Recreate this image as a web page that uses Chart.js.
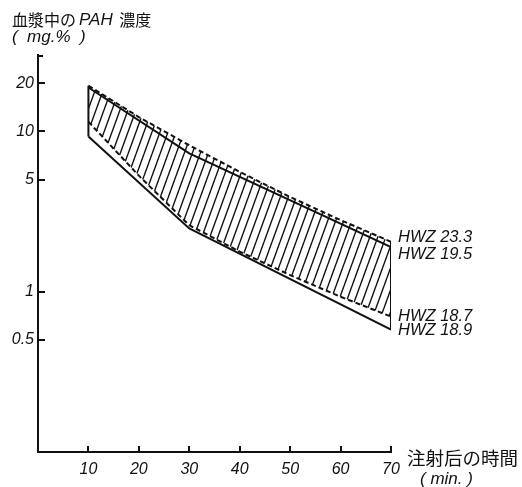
<!DOCTYPE html>
<html lang="ja">
<head>
<meta charset="UTF-8">
<title>血漿中のPAH濃度</title>
<script src="https://cdn.jsdelivr.net/npm/chart.js"></script>
<style>
  html, body { margin: 0; padding: 0; background: #fff; }
  #wrap { width: 522px; height: 487px; position: relative; }
</style>
</head>
<body>
<div id="wrap"><canvas id="pahChart" width="522" height="487"></canvas></div>
<script>
// values (x = minutes after injection, y = mg%)
const minutes = [10, 20, 30, 40, 50, 60, 70];
const hwz233 = [19.3, 12.3, 8.2, 5.6, 3.9, 2.8, 2.05];    // upper dashed
const hwz187 = [11.5, 5.3, 2.6, 1.78, 1.27, 0.93, 0.70];  // lower dashed
const solidMinutes = [10, 30, 70];
const hwz195 = [18.8, 7.3, 1.9];   // upper solid
const hwz189 = [9.3, 2.48, 0.58];  // lower solid
const yTicks = [0.5, 1, 5, 10, 20];
const xTicks = [10, 20, 30, 40, 50, 60, 70];
const seriesNames = ['HWZ 23.3', 'HWZ 19.5', 'HWZ 18.7', 'HWZ 18.9'];

const INK = '#111';
const latin = '"Liberation Sans", Arial, sans-serif';
const cjk = '"Noto Sans CJK JP", "Noto Sans CJK SC", sans-serif';

// hatch pattern for the band between the dashed curves
function makeHatch() {
    const c = document.createElement('canvas');
    c.width = 8; c.height = 22;
    const g = c.getContext('2d');
    g.strokeStyle = INK;
    g.lineWidth = 1.4;
    [-8, 0, 8].forEach(function(off) {
        g.beginPath();
        g.moveTo(8 + off, 0);
        g.lineTo(0 + off, 22);
        g.stroke();
    });
    return g.createPattern(c, 'repeat');
}

const pts = (xs, ys) => xs.map((x, i) => ({x: x, y: ys[i]}));
const last = arr => arr[arr.length - 1];

const lineBase = {borderColor: INK, borderWidth: 2, pointRadius: 0, tension: 0, fill: false};

const datasets = [
    Object.assign({}, lineBase, {label: seriesNames[0], data: pts(minutes, hwz233),
        borderDash: [5, 3], fill: 1, backgroundColor: makeHatch()}),
    Object.assign({}, lineBase, {label: seriesNames[2], data: pts(minutes, hwz187), borderDash: [5, 3]}),
    Object.assign({}, lineBase, {label: seriesNames[1], data: pts(solidMinutes, hwz195)}),
    Object.assign({}, lineBase, {label: seriesNames[3], data: pts(solidMinutes, hwz189)}),
    // closing edges at 10 and 70 min
    Object.assign({}, lineBase, {label: 'edge10', data: [{x: minutes[0], y: hwz233[0]}, {x: solidMinutes[0], y: hwz189[0]}]}),
    Object.assign({}, lineBase, {label: 'edge70', data: [{x: last(minutes), y: last(hwz233)}, {x: last(solidMinutes), y: last(hwz189)}]})
];

// inward tick marks, titles and end labels
const decor = {
    id: 'decor',
    afterDraw(chart) {
        const ctx = chart.ctx;
        const xs = chart.scales.x, ys = chart.scales.y;
        const a = chart.chartArea;
        ctx.save();
        ctx.strokeStyle = INK;
        ctx.lineWidth = 2;
        ctx.beginPath();
        yTicks.forEach(function(v) {
            const y = Math.round(ys.getPixelForValue(v));
            ctx.moveTo(a.left, y); ctx.lineTo(a.left + 7, y);
        });
        ctx.moveTo(a.left, a.top + 1); ctx.lineTo(a.left + 5, a.top + 1);
        xTicks.forEach(function(v) {
            const x = Math.round(xs.getPixelForValue(v));
            ctx.moveTo(x, a.bottom); ctx.lineTo(x, a.bottom - 6);
        });
        ctx.stroke();

        ctx.fillStyle = INK;
        ctx.textBaseline = 'middle';
        // y title
        let x = 12;
        const parts = [['血漿中の', '16px ' + cjk], ['PAH', 'italic 17px ' + latin], [' 濃度', '16px ' + cjk]];
        parts.forEach(function(p) {
            ctx.font = p[1];
            ctx.fillText(p[0], x, 20);
            x += ctx.measureText(p[0]).width + 3;
        });
        ctx.font = 'italic 17px ' + latin;
        ctx.fillText('(  mg.%  )', 12, 37);

        // x title
        ctx.font = '18.5px ' + cjk;
        ctx.fillText('注射后の時間', 407, 458);
        ctx.font = 'italic 17px ' + latin;
        ctx.fillText('( min. )', 420, 479);

        // series end labels
        const ends = [last(hwz233), last(hwz195), last(hwz187), last(hwz189)];
        const offs = [-4, 7, 0, 1];
        ctx.font = 'italic 16.5px ' + latin;
        const lx = xs.getPixelForValue(70) + 7;
        ends.forEach(function(v, i) {
            ctx.fillText(seriesNames[i], lx, ys.getPixelForValue(v) + offs[i]);
        });
        ctx.restore();
    }
};

new Chart(document.getElementById('pahChart'), {
    type: 'line',
    data: {datasets: datasets},
    options: {
        responsive: false,
        animation: false,
        layout: {padding: {top: 55, right: 131, left: 0, bottom: 0}},
        plugins: {legend: {display: false}, tooltip: {enabled: false}},
        scales: {
            x: {
                type: 'linear', min: 0, max: 70,
                grid: {display: false, drawTicks: false},
                border: {display: true, color: INK, width: 2},
                afterFit: s => { s.height = 35; },
                afterBuildTicks: s => { s.ticks = xTicks.map(v => ({value: v})); },
                ticks: {padding: 8, color: INK, autoSkip: false, maxRotation: 0,
                        font: {family: latin, size: 16, style: 'italic'}, callback: v => String(v)}
            },
            y: {
                type: 'logarithmic', min: 0.1, max: 30,
                grid: {display: false, drawTicks: false},
                border: {display: true, color: INK, width: 2},
                afterFit: s => { s.width = 38; },
                afterBuildTicks: s => { s.ticks = yTicks.map(v => ({value: v})); },
                ticks: {padding: 4, color: INK, autoSkip: false,
                        font: {family: latin, size: 16, style: 'italic'}, callback: v => String(v)}
            }
        }
    },
    plugins: [decor]
});
</script>
</body>
</html>
